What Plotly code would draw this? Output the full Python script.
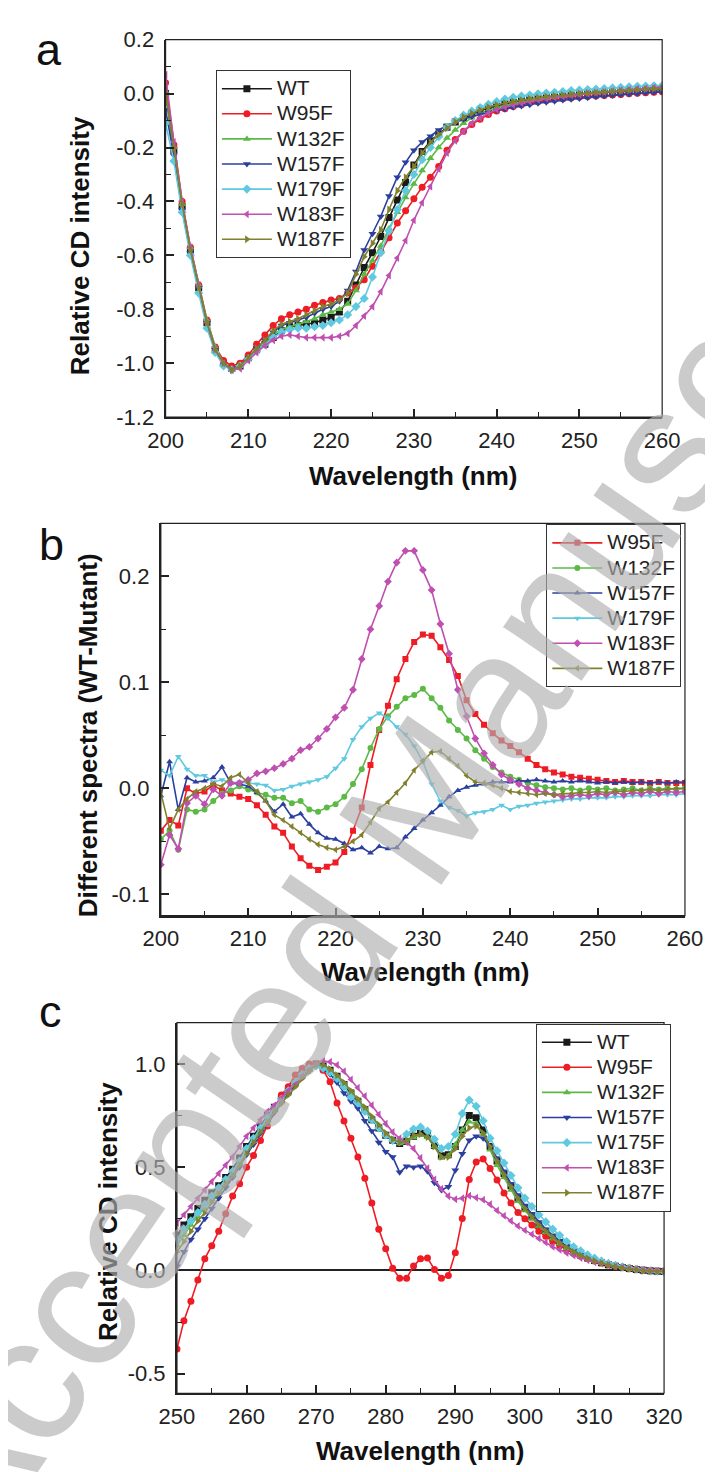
import plotly.graph_objects as go

# ---------------- Panel a data ----------------
wl_a = list(range(200, 261))
a_WT = [0.00, -0.21, -0.42, -0.58, -0.72, -0.85, -0.95, -1.00, -1.02, -1.01,
        -0.98, -0.95, -0.93, -0.905, -0.88, -0.865, -0.86, -0.855, -0.85, -0.84,
        -0.83, -0.81, -0.77, -0.71, -0.645, -0.59, -0.53, -0.46, -0.395, -0.33,
        -0.265, -0.215, -0.176, -0.15, -0.125, -0.105, -0.09, -0.075, -0.063, -0.053,
        -0.045, -0.038, -0.032, -0.027, -0.022, -0.018, -0.014, -0.011, -0.008, -0.005,
        -0.003, 0.0, 0.002, 0.004, 0.006, 0.008, 0.01, 0.012, 0.014, 0.016, 0.018]
a_W95F = [0.04, -0.19, -0.40, -0.57, -0.71, -0.84, -0.94, -0.99, -1.01, -1.0,
          -0.97, -0.93, -0.895, -0.86, -0.835, -0.82, -0.81, -0.80, -0.785, -0.775,
          -0.766, -0.76, -0.74, -0.72, -0.69, -0.64, -0.585, -0.535, -0.48, -0.435,
          -0.39, -0.347, -0.31, -0.27, -0.21, -0.17, -0.14, -0.115, -0.095, -0.078,
          -0.065, -0.056, -0.048, -0.041, -0.035, -0.03, -0.026, -0.022, -0.019, -0.016,
          -0.013, -0.011, -0.009, -0.007, -0.005, -0.003, -0.001, 0.001, 0.003, 0.005, 0.007]
a_W132F = [0.0, -0.2, -0.41, -0.57, -0.71, -0.84, -0.94, -1.0, -1.02, -1.01,
           -0.98, -0.95, -0.925, -0.895, -0.875, -0.865, -0.855, -0.845, -0.835, -0.82,
           -0.81, -0.8, -0.78, -0.73, -0.67, -0.62, -0.565, -0.5, -0.44, -0.385,
           -0.335, -0.285, -0.24, -0.2, -0.165, -0.135, -0.11, -0.09, -0.074, -0.062,
           -0.052, -0.044, -0.037, -0.031, -0.025, -0.02, -0.016, -0.012, -0.008, -0.004,
           -0.001, 0.002, 0.005, 0.008, 0.01, 0.012, 0.014, 0.016, 0.018, 0.02, 0.022]
a_W157F = [-0.06, -0.23, -0.43, -0.59, -0.72, -0.85, -0.95, -1.01, -1.02, -1.01,
           -0.98, -0.945, -0.915, -0.885, -0.86, -0.85, -0.84, -0.83, -0.815, -0.80,
           -0.79, -0.77, -0.73, -0.66, -0.58, -0.52, -0.456, -0.38, -0.31, -0.255,
           -0.21, -0.18, -0.158, -0.135, -0.118, -0.105, -0.095, -0.085, -0.077, -0.07,
           -0.063, -0.057, -0.051, -0.046, -0.041, -0.036, -0.032, -0.028, -0.024, -0.021,
           -0.018, -0.015, -0.012, -0.009, -0.006, -0.004, -0.002, 0.0, 0.003, 0.005, 0.007]
a_W179F = [-0.11, -0.25, -0.44, -0.60, -0.74, -0.87, -0.96, -1.01, -1.025, -1.01,
           -0.985, -0.955, -0.93, -0.905, -0.885, -0.875, -0.87, -0.87, -0.865, -0.86,
           -0.85, -0.84, -0.82, -0.79, -0.76, -0.68, -0.59, -0.51, -0.43, -0.36,
           -0.3, -0.245, -0.2, -0.16, -0.125, -0.1, -0.08, -0.065, -0.052, -0.04,
           -0.03, -0.02, -0.014, -0.009, -0.005, -0.001, 0.002, 0.005, 0.008, 0.011,
           0.013, 0.015, 0.017, 0.019, 0.021, 0.023, 0.025, 0.027, 0.028, 0.029, 0.03]
a_W183F = [0.07, -0.18, -0.40, -0.57, -0.71, -0.85, -0.95, -1.0, -1.025, -1.02,
           -0.99, -0.96, -0.935, -0.915, -0.90, -0.895, -0.90, -0.905, -0.905, -0.905,
           -0.905, -0.90, -0.89, -0.86, -0.825, -0.79, -0.735, -0.675, -0.61, -0.545,
           -0.47, -0.405, -0.345, -0.28, -0.22, -0.175, -0.14, -0.11, -0.09, -0.073,
           -0.06, -0.05, -0.042, -0.035, -0.029, -0.023, -0.018, -0.014, -0.01, -0.006,
           -0.003, 0.0, 0.003, 0.006, 0.009, 0.012, 0.015, 0.018, 0.02, 0.022, 0.024]
a_W187F = [0.005, -0.2, -0.41, -0.58, -0.72, -0.85, -0.95, -1.0, -1.025, -1.01,
           -0.98, -0.945, -0.915, -0.88, -0.855, -0.845, -0.835, -0.82, -0.805, -0.79,
           -0.78, -0.765, -0.74, -0.67, -0.605, -0.555, -0.505, -0.43, -0.36, -0.31,
           -0.27, -0.22, -0.18, -0.152, -0.128, -0.105, -0.087, -0.073, -0.061, -0.05,
           -0.042, -0.035, -0.029, -0.024, -0.019, -0.015, -0.011, -0.008, -0.005, -0.002,
           0.0, 0.002, 0.004, 0.006, 0.008, 0.01, 0.012, 0.014, 0.016, 0.018, 0.02]

# ---------------- Panel b data ----------------
wl_b = list(range(200, 261))
b_W95F = [-0.04, -0.03, -0.035, 0.0, -0.005, -0.003, 0.003, -0.002, -0.005, -0.008,
          -0.01, -0.016, -0.025, -0.036, -0.042, -0.055, -0.066, -0.073, -0.077, -0.074,
          -0.07, -0.06, -0.04, -0.018, 0.022, 0.055, 0.078, 0.103, 0.122, 0.138,
          0.145, 0.144, 0.133, 0.121, 0.106, 0.083, 0.07, 0.06, 0.052, 0.045,
          0.04, 0.034, 0.028, 0.022, 0.018, 0.015, 0.013, 0.011, 0.01, 0.009,
          0.008, 0.007, 0.006, 0.007, 0.006, 0.006, 0.005, 0.006, 0.005, 0.005, 0.005]
b_W132F = [-0.048, -0.04, -0.058, -0.02, -0.022, -0.02, -0.012, -0.005, -0.002, 0.002,
           -0.001, -0.004, -0.006, -0.009, -0.009, -0.014, -0.012, -0.02, -0.022, -0.018,
           -0.015, -0.008, 0.004, 0.018, 0.038, 0.056, 0.068, 0.077, 0.085, 0.088,
           0.094, 0.085, 0.076, 0.064, 0.055, 0.047, 0.036, 0.028, 0.02, 0.015,
           0.011, 0.008, 0.005, 0.003, 0.001, 0.0, -0.001, 0.0, -0.002, 0.0,
           -0.001, 0.0, -0.002, -0.001, 0.0, -0.002, 0.0, -0.001, 0.0, -0.001, 0.0]
b_W157F = [-0.007, 0.025, -0.02, 0.01, 0.006, 0.007, 0.01, 0.02, 0.005, 0.004,
           0.002, -0.004, -0.012, -0.022, -0.015, -0.027, -0.024, -0.034, -0.042, -0.047,
           -0.048, -0.052, -0.058, -0.056, -0.061, -0.055, -0.057, -0.056, -0.046, -0.038,
           -0.03, -0.023, -0.016, -0.008, -0.002, 0.001, 0.003, 0.004, 0.006, 0.006,
           0.006, 0.007, 0.007, 0.008, 0.007, 0.006, 0.007, 0.006, 0.007, 0.006,
           0.005, 0.006, 0.005, 0.006, 0.005, 0.006, 0.005, 0.006, 0.005, 0.006, 0.006]
b_W179F = [0.017, 0.012, 0.03, 0.018, 0.012, 0.012, 0.006, 0.008, 0.005, 0.006,
           0.005, 0.004, 0.003, -0.002, -0.001, 0.002, 0.004, 0.006, 0.008, 0.011,
           0.019, 0.028, 0.046, 0.058, 0.066, 0.071, 0.066, 0.058, 0.051, 0.04,
           0.025, 0.004, -0.012, -0.018, -0.021, -0.026, -0.023, -0.022, -0.02, -0.016,
           -0.02, -0.017, -0.016, -0.014, -0.013, -0.012, -0.011, -0.01, -0.01, -0.009,
           -0.009, -0.009, -0.008, -0.008, -0.007, -0.007, -0.007, -0.006, -0.006, -0.006, -0.005]
b_W183F = [-0.072, -0.044, -0.057, -0.014, -0.007, -0.015, -0.001, -0.007, 0.005, 0.005,
           0.008, 0.014, 0.016, 0.019, 0.023, 0.028, 0.036, 0.039, 0.047, 0.056,
           0.067, 0.076, 0.093, 0.122, 0.15, 0.172, 0.195, 0.213, 0.224, 0.224,
           0.206, 0.187, 0.155, 0.127, 0.093, 0.068, 0.047, 0.033, 0.022, 0.013,
           0.008, 0.004, 0.0, -0.002, -0.004, -0.006, -0.008, -0.007, -0.006, -0.007,
           -0.005, -0.006, -0.004, -0.006, -0.004, -0.005, -0.003, -0.005, -0.003, -0.004, -0.003]
b_W187F = [-0.004, -0.038, -0.02, -0.01, -0.003, 0.0, 0.004, 0.002, 0.01, 0.013,
           0.005, -0.003, -0.012, -0.025, -0.03, -0.036, -0.042, -0.048, -0.053, -0.056,
           -0.058, -0.055, -0.05, -0.044, -0.032, -0.019, -0.013, -0.004, 0.005, 0.017,
           0.026, 0.034, 0.035, 0.028, 0.021, 0.012, 0.006, 0.005, 0.003, 0.0,
           -0.003, -0.004, -0.005, -0.006, -0.005, -0.006, -0.005, -0.005, -0.004, -0.004,
           -0.003, -0.004, -0.003, -0.003, -0.002, -0.002, -0.001, -0.002, -0.001, 0.0, 0.0]

# ---------------- Panel c data ----------------
wl_c = list(range(250, 321))
c_WT = [0.17, 0.22, 0.26, 0.30, 0.34, 0.375, 0.41, 0.45, 0.49, 0.545,
        0.6, 0.65, 0.7, 0.75, 0.79, 0.83, 0.87, 0.91, 0.95, 0.98,
        1.0, 0.99, 0.97, 0.94, 0.9, 0.86, 0.82, 0.78, 0.73, 0.69,
        0.655, 0.63, 0.615, 0.625, 0.65, 0.665, 0.655, 0.605, 0.555, 0.56,
        0.6, 0.68, 0.75, 0.74, 0.68, 0.6, 0.53, 0.47, 0.41, 0.35,
        0.3, 0.26, 0.22, 0.19, 0.16, 0.135, 0.11, 0.09, 0.075, 0.06,
        0.048, 0.037, 0.028, 0.02, 0.014, 0.009, 0.005, 0.001, -0.002, -0.004, -0.005]
c_W95F = [-0.38, -0.244, -0.149, -0.046, 0.057, 0.12, 0.19, 0.275, 0.36, 0.42,
          0.5, 0.557, 0.629, 0.7, 0.78, 0.85, 0.89, 0.946, 0.978, 1.0,
          1.0, 0.97, 0.914, 0.811, 0.724, 0.64, 0.549, 0.446, 0.327, 0.2,
          0.105, 0.01, -0.038, -0.038, 0.021, 0.057, 0.06, 0.005, -0.038, -0.025,
          0.086, 0.251, 0.441, 0.525, 0.54, 0.494, 0.438, 0.375, 0.327, 0.28,
          0.25, 0.22, 0.19, 0.165, 0.14, 0.12, 0.1, 0.085, 0.07, 0.058,
          0.047, 0.038, 0.03, 0.023, 0.017, 0.012, 0.007, 0.003, 0.0, -0.002, -0.004]
c_W132F = [0.12, 0.17, 0.22, 0.26, 0.3, 0.345, 0.385, 0.43, 0.47, 0.52,
           0.58, 0.63, 0.68, 0.73, 0.78, 0.82, 0.86, 0.9, 0.94, 0.975,
           1.0, 0.99, 0.97, 0.94, 0.905, 0.865, 0.825, 0.785, 0.74, 0.7,
           0.66, 0.63, 0.615, 0.62, 0.645, 0.655, 0.645, 0.6, 0.545, 0.555,
           0.61, 0.68, 0.72, 0.71, 0.66, 0.585, 0.51, 0.45, 0.39, 0.335,
           0.29, 0.25, 0.215, 0.185, 0.155, 0.13, 0.108, 0.088, 0.072, 0.058,
           0.046, 0.036, 0.027, 0.02, 0.014, 0.009, 0.005, 0.002, -0.001, -0.003, -0.004]
c_W157F = [0.02, 0.09, 0.15, 0.2, 0.25, 0.3, 0.35, 0.4, 0.45, 0.5,
           0.56, 0.61, 0.665, 0.715, 0.765, 0.81, 0.855, 0.9, 0.94, 0.975,
           0.99, 0.975, 0.95, 0.91, 0.86, 0.82, 0.785, 0.725, 0.675, 0.62,
           0.575, 0.55, 0.475, 0.505, 0.5, 0.505, 0.48, 0.425, 0.39, 0.405,
           0.485, 0.565, 0.63, 0.65, 0.64, 0.6, 0.545, 0.48, 0.42, 0.365,
           0.315, 0.275, 0.235, 0.2, 0.17, 0.142, 0.118, 0.097, 0.079, 0.063,
           0.05, 0.039, 0.029, 0.021, 0.014, 0.008, 0.004, 0.0, -0.003, -0.006, -0.008]
c_W175F = [0.15, 0.2, 0.24, 0.28, 0.32, 0.36, 0.4, 0.44, 0.48, 0.53,
           0.59, 0.64, 0.69, 0.74, 0.79, 0.83, 0.87, 0.91, 0.95, 0.98,
           0.99, 0.98, 0.96, 0.93, 0.89, 0.84, 0.81, 0.77, 0.73, 0.69,
           0.655, 0.63, 0.625, 0.66, 0.685, 0.695, 0.675, 0.635, 0.59, 0.6,
           0.66, 0.76, 0.825, 0.795, 0.725, 0.64, 0.58, 0.52, 0.46, 0.4,
           0.35, 0.31, 0.27, 0.235, 0.2, 0.17, 0.14, 0.115, 0.095, 0.076,
           0.06, 0.046, 0.034, 0.025, 0.017, 0.011, 0.006, 0.002, -0.002, -0.004, -0.006]
c_W183F = [0.23, 0.27, 0.31, 0.35, 0.39, 0.43, 0.47, 0.51, 0.55, 0.6,
           0.65, 0.69, 0.73, 0.77, 0.8, 0.835, 0.87, 0.9, 0.94, 0.97,
           1.0, 1.015, 1.01, 0.995, 0.965, 0.925, 0.885, 0.845, 0.8, 0.755,
           0.71, 0.67, 0.64, 0.62, 0.59, 0.545, 0.495, 0.44, 0.395, 0.36,
           0.345, 0.35, 0.362, 0.352, 0.342, 0.32, 0.29, 0.265, 0.24, 0.215,
           0.195, 0.175, 0.155, 0.135, 0.115, 0.1, 0.085, 0.072, 0.06, 0.05,
           0.04, 0.032, 0.025, 0.019, 0.014, 0.009, 0.005, 0.002, -0.001, -0.003, -0.004]
c_W187F = [0.09, 0.14, 0.19, 0.24, 0.28, 0.33, 0.37, 0.42, 0.46, 0.51,
           0.565, 0.62, 0.67, 0.72, 0.77, 0.81, 0.85, 0.89, 0.93, 0.965,
           0.995, 0.995, 0.975, 0.945, 0.91, 0.87, 0.83, 0.79, 0.745, 0.705,
           0.665, 0.635, 0.62, 0.63, 0.655, 0.66, 0.645, 0.6, 0.55, 0.55,
           0.59, 0.65, 0.69, 0.7, 0.665, 0.6, 0.53, 0.465, 0.405, 0.35,
           0.3, 0.26, 0.22, 0.19, 0.16, 0.133, 0.11, 0.09, 0.073, 0.059,
           0.047, 0.036, 0.027, 0.019, 0.012, 0.007, 0.003, -0.002, -0.004, -0.005, -0.004]

# ---------------- tick labels ----------------
a_yticks = [0.2, 0.0, -0.2, -0.4, -0.6, -0.8, -1.0, -1.2]
a_yticktext = ["0.2", "0.0", "-0.2", "-0.4", "-0.6", "-0.8", "-1.0", "-1.2"]
a_xticks = [200, 210, 220, 230, 240, 250, 260]
b_yticks = [0.2, 0.1, 0.0, -0.1]
b_yticktext = ["0.2", "0.1", "0.0", "-0.1"]
b_xticks = [200, 210, 220, 230, 240, 250, 260]
c_yticks = [1.0, 0.5, 0.0, -0.5]
c_yticktext = ["1.0", "0.5", "0.0", "-0.5"]
c_xticks = [250, 260, 270, 280, 290, 300, 310, 320]

# ---------------- styles ----------------
BLACK = "#1a1a1a"
RED = "#ee1c24"
GREEN = "#5cb946"
BLUE = "#2b3f9e"
CYAN = "#5fc9e0"
MAGENTA = "#bf4fb0"
OLIVE = "#80802e"
FONT = "Liberation Sans, Arial, sans-serif"

fig = go.Figure()

def add(x, y, name, color, symbol, xa, ya, legend, msize):
    fig.add_trace(go.Scatter(
        x=x, y=y, name='<span style="font-size:21px">%s</span>' % name, mode="lines+markers",
        line=dict(color=color, width=1.6),
        marker=dict(symbol=symbol, size=msize, color=color, line=dict(width=0)),
        xaxis=xa, yaxis=ya, legend=legend))

series_a = [("WT", a_WT, BLACK, "square"), ("W95F", a_W95F, RED, "circle"),
            ("W132F", a_W132F, GREEN, "triangle-up"), ("W157F", a_W157F, BLUE, "triangle-down"),
            ("W179F", a_W179F, CYAN, "diamond"), ("W183F", a_W183F, MAGENTA, "triangle-left"),
            ("W187F", a_W187F, OLIVE, "triangle-right")]
for n, y, c, s in series_a:
    add(wl_a, y, n, c, s, "x", "y", "legend", 7)

series_b = [("W95F", b_W95F, RED, "square"), ("W132F", b_W132F, GREEN, "circle"),
            ("W157F", b_W157F, BLUE, "triangle-up"), ("W179F", b_W179F, CYAN, "triangle-down"),
            ("W183F", b_W183F, MAGENTA, "diamond"), ("W187F", b_W187F, OLIVE, "triangle-left")]
for n, y, c, s in series_b:
    add(wl_b, y, n, c, s, "x2", "y2", "legend2", 6)

series_c = [("WT", c_WT, BLACK, "square"), ("W95F", c_W95F, RED, "circle"),
            ("W132F", c_W132F, GREEN, "triangle-up"), ("W157F", c_W157F, BLUE, "triangle-down"),
            ("W175F", c_W175F, CYAN, "diamond"), ("W183F", c_W183F, MAGENTA, "triangle-left"),
            ("W187F", c_W187F, OLIVE, "triangle-right")]
for n, y, c, s in series_c:
    add(wl_c, y, n, c, s, "x3", "y3", "legend3", 7)

W, H = 713, 1472
def px(xp): return xp / W
def py(yp): return 1 - yp / H

tickfont = dict(family=FONT, size=22, color="#222")

def xaxis(domain, rng, ticks, anchor, mdt):
    return dict(domain=domain, range=rng, tickvals=ticks, ticktext=[str(t) for t in ticks],
                ticks="inside", ticklen=8, tickwidth=1.5, tickcolor="#222",
                showline=True, linewidth=2, linecolor="#222", mirror=False,
                showgrid=False, zeroline=False, anchor=anchor, tickfont=tickfont,
                ticklabelstandoff=2,
                minor=dict(ticks="inside", ticklen=5, tickwidth=1.2, tickcolor="#222", dtick=mdt, tick0=0, showgrid=False))

def yaxis(domain, rng, ticks, text, anchor, mdt, zl=False):
    return dict(domain=domain, range=rng, tickvals=ticks, ticktext=text,
                ticks="inside", ticklen=8, tickwidth=1.5, tickcolor="#222",
                showline=True, linewidth=2, linecolor="#222", mirror=False,
                showgrid=False, zeroline=zl, zerolinecolor="#222", zerolinewidth=1.5,
                anchor=anchor, tickfont=tickfont, ticklabelstandoff=5,
                minor=dict(ticks="inside", ticklen=5, tickwidth=1.2, tickcolor="#222", dtick=mdt, tick0=0, showgrid=False))

fig.update_layout(
    width=W, height=H, margin=dict(l=0, r=0, t=0, b=0),
    paper_bgcolor="white", plot_bgcolor="white",
    font=dict(family=FONT, color="#222"),
    xaxis=xaxis([px(147), px(670)], [200, 260], a_xticks, "y", 5),
    yaxis=yaxis([py(404), py(20)], [-1.2, 0.2], a_yticks, a_yticktext, "x", 0.1),
    xaxis2=xaxis([px(142), px(694)], [200, 260], b_xticks, "y2", 5),
    yaxis2=yaxis([py(911), py(512)], [-0.12, 0.25], b_yticks, b_yticktext, "x2", 0.05),
    xaxis3=xaxis([px(159), px(672)], [250, 320], c_xticks, "y3", 5),
    yaxis3=yaxis([py(1397), py(1020)], [-0.595, 1.2], c_yticks, c_yticktext, "x3", 0.25, zl=True),
)

legend_common = dict(bgcolor="white", bordercolor="#333", borderwidth=1,
                     font=dict(family=FONT, size=17, color="#222"),
                     xanchor="left", yanchor="top", itemwidth=50,
                     tracegroupgap=0)
fig.update_layout(
    legend=dict(x=px(200), y=py(51), **legend_common),
    legend2=dict(x=px(548), y=py(513), **legend_common),
    legend3=dict(x=px(537), y=py(1021), **legend_common),
)

# frame boxes
for xr, yr in [("x domain", "y domain"), ("x2 domain", "y2 domain"), ("x3 domain", "y3 domain")]:
    fig.add_shape(type="rect", xref=xr, yref=yr, x0=0, x1=1, y0=0, y1=1,
                  line=dict(color="#222", width=1.2), layer="above")

ann = []
titlefont = dict(family=FONT, size=26, color="#111")
def title(text, x, y, angle=0):
    ann.append(dict(text="<b>%s</b>" % text, x=px(x), y=py(y), xref="paper", yref="paper",
                    showarrow=False, textangle=angle, font=titlefont,
                    xanchor="center", yanchor="middle"))

title("Relative CD intensity", 57, 230, -90)
title("Wavelength (nm)", 408, 464)
title("Different spectra (WT-Mutant)", 65, 728, -90)
title("Wavelength (nm)", 420, 968)
title("Relative CD intensity", 87, 1212, -90)
title("Wavelength (nm)", 415, 1456)

for letter, x, y in [("a", 24, 30), ("b", 27, 534), ("c", 26, 1009)]:
    ann.append(dict(text=letter, x=px(x), y=py(y), xref="paper", yref="paper",
                    showarrow=False, font=dict(family=FONT, size=45, color="#111"),
                    xanchor="center", yanchor="middle"))

# watermark
ann.append(dict(text="Accepted Manuscript", x=px(398), y=py(822), xref="paper", yref="paper",
                showarrow=False, textangle=-55.5,
                font=dict(family=FONT, size=180, color="rgba(175,175,175,0.65)"),
                xanchor="center", yanchor="middle"))

fig.update_layout(annotations=ann)

fig.write_html("out.html")
